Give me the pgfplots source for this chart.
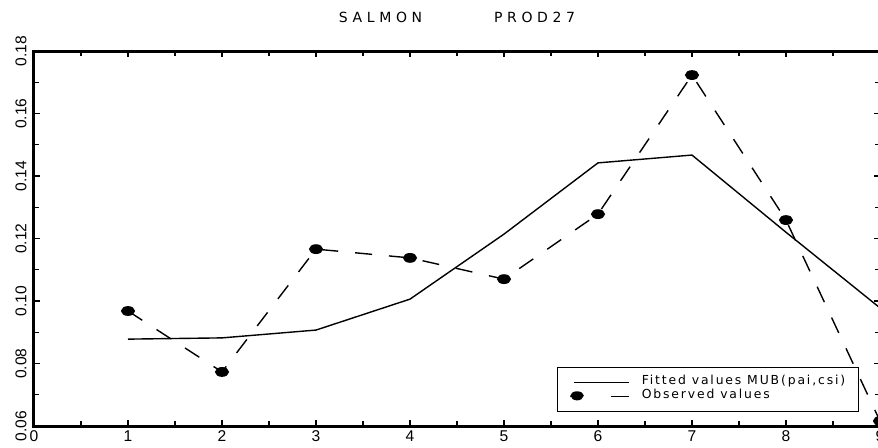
\documentclass[border=0pt]{standalone}
\usepackage{pgfplots}
\pgfplotsset{compat=1.18}
\usepackage{fontspec}
\setmainfont{Liberation Sans}
\newfontfamily\spaced[LetterSpace=33]{DejaVu Sans}
\newfontfamily\lspaced[LetterSpace=15]{DejaVu Sans}
\begin{document}
\begin{tikzpicture}
\begin{axis}[
  at={(0,0)}, anchor=south west, scale only axis,
  width=423pt, height=187.5pt,
  xmin=0, xmax=9, ymin=0.06, ymax=0.18,
  xtick={0,1,2,3,4,5,6,7,8,9},
  minor xtick={0.5,1.5,2.5,3.5,4.5,5.5,6.5,7.5,8.5},
  ytick={0.06,0.08,0.10,0.12,0.14,0.16,0.18},
  minor ytick={0.07,0.09,0.11,0.13,0.15,0.17},
  major tick length=3pt, minor tick length=2.5pt,
  every tick/.style={black, line width=0.6pt},
  axis line style={line width=1.5pt},
  /pgf/number format/assume math mode=true,
  yticklabel style={/pgf/number format/fixed, /pgf/number format/precision=2,
    /pgf/number format/fixed zerofill, rotate=90, anchor=south, inner sep=3.5pt,
    font=\fontsize{7.8}{9}\selectfont},
  xticklabel style={font=\fontsize{7.8}{9}\selectfont, inner sep=2pt},
  title={\spaced SALMON\hspace{36pt}PROD27},
  title style={at={(0.5,1)}, anchor=base, yshift=8.5pt, font=\fontsize{7}{8}\selectfont},
  legend style={at={(0.975,0.037)}, anchor=south east, draw=black, line width=0.6pt,
    font=\lspaced\fontsize{6.2}{6.75}\selectfont, inner xsep=6.5pt, inner ysep=4.3pt,
    row sep=0pt, legend cell align=left,
    nodes={inner sep=0pt, text height=4.5pt, text depth=2.25pt}},
]
\addplot[black, line width=0.7pt, solid,
  legend image code/.code={\draw[solid, line width=0.6pt] (0pt,0pt) -- (27.5pt,0pt);
     \path (33.5pt,0pt);}]
  coordinates {(1,0.0878) (2,0.0882) (3,0.0907) (4,0.1006) (5,0.1214) (6,0.1442) (7,0.1467) (8,0.1220) (9,0.0978)};
\addlegendentry{Fitted values MUB(pai,csi)}
\addplot[black, line width=0.7pt, dash pattern=on 8.5pt off 8.5pt,
  mark=*, mark size=2.1pt, mark options={solid, xscale=1.5},
  legend image code/.code={\draw[solid, line width=0.6pt] (18.5pt,0pt) -- (27.5pt,0pt);
     \fill (1.5pt,0pt) ellipse [x radius=3.1pt, y radius=2.1pt]; \path (33.5pt,0pt);}]
  coordinates {(1,0.0968) (2,0.0773) (3,0.1166) (4,0.1138) (5,0.1070) (6,0.1278) (7,0.1723) (8,0.1259) (9,0.0616)};
\addlegendentry{Observed values}
\end{axis}
\pgfresetboundingbox
\path (-17pt,-10.5pt) rectangle (422pt,213pt);
\end{tikzpicture}
\end{document}
